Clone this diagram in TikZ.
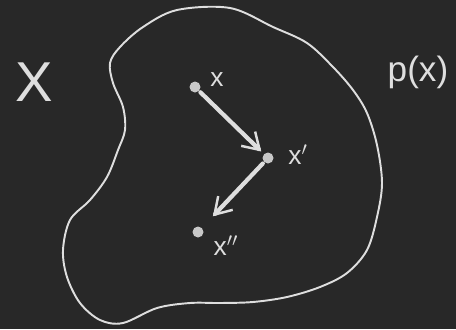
\documentclass[tikz,border=0pt]{standalone}
\usepackage{fontspec}
\setmainfont{Liberation Sans}
\usetikzlibrary{arrows.meta}
\definecolor{boardC}{RGB}{40,40,40}
\definecolor{chalkC}{RGB}{222,222,222}
\definecolor{dotC}{RGB}{200,200,200}
\tikzset{
	chalk/.style={draw=chalkC, line width=1.1pt, line cap=round, line join=round},
	sample/.style={circle, fill=dotC, inner sep=0pt, minimum size=0.22cm},
	ptlabel/.style={text=chalkC, font=\fontsize{15}{17}\selectfont, inner sep=0pt},
	biglabel/.style={text=chalkC, inner sep=0pt},
	move/.style={-{Straight Barb[length=3.2mm,width=4mm,line width=1.4pt]},
		draw=chalkC, line width=2.4pt, line cap=round},
}

\begin{document}
\begin{tikzpicture}[x=0.02cm,y=-0.02cm]
		
		% =============== BOARD ===============
		\fill[boardC] (0,0) rectangle (456,329);
		\useasboundingbox (0,0) rectangle (456,329);
		
		% =============== REGION ===============
		\draw[chalk] plot[smooth cycle, tension=0.55] coordinates {
			(177,10) (230,8) (273,27) (307,43) (333,67) (353,90) (367,113)
			(377,145) (382,183) (377,217) (367,250) (347,273) (320,287)
			(287,297) (253,302) (220,303) (190,303) (157,308) (123,323)
			(100,320) (80,303) (67,277) (63,250) (70,220) (90,200)
			(107,177) (118,150) (125,130) (123,107) (113,83) (110,63)
			(120,47) (143,27)};
		
		% =============== LABELS ===============
		\node[biglabel, font=\fontsize{32}{34}\selectfont] (space) at (34,82) {X};
		\node[biglabel, font=\fontsize{20}{24}\selectfont] (dens) at (418,72) {p(x)};
		
		% =============== SAMPLES ===============
		\node[sample] (x0) at (195,87) {};
		\node[sample] (x1) at (268,158) {};
		\node[sample] (x2) at (198,232) {};
		
		\node[ptlabel] (l0) at (217,80) {x};
		\node[ptlabel] (l1) at (298,155) {x$'$};
		\node[ptlabel] (l2) at (226,246) {x$''$};
		
		% =============== STEPS ===============
		\draw[move, shorten <=1pt, shorten >=2pt] (x0) -- (x1);
		\draw[move, shorten <=1pt, shorten >=9pt] (x1) -- (x2);
		
	\end{tikzpicture}
\end{document}
